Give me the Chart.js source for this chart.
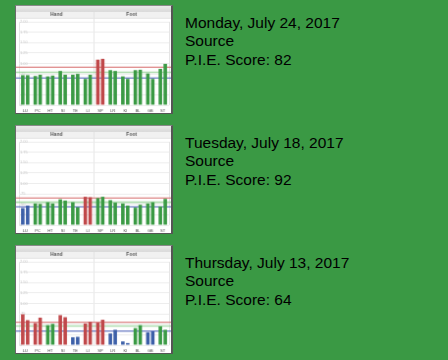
<!DOCTYPE html>
<html>
<head>
<meta charset="utf-8">
<script src="https://cdn.jsdelivr.net/npm/chart.js@4.4.0/dist/chart.umd.min.js"></script>
<style>
  html, body { margin:0; padding:0; }
  body { width:448px; height:360px; background:#3a9944; position:relative; overflow:hidden;
         font-family:'Liberation Sans', Arial, Helvetica, sans-serif; }
  canvas.thumb { position:absolute; left:15px; background:#fff;
         border-left:1px solid #6a6a6a; border-top:1px solid #8a8a8a;
         border-right:2px solid #555; border-bottom:1px solid #555; }
  .info { position:absolute; left:185px; font-size:15.5px; line-height:18.3px; color:#000; }
</style>
</head>
<body>
<canvas id="c1" class="thumb" width="158" height="109" style="top:5px"></canvas>
<canvas id="c2" class="thumb" width="158" height="109" style="top:125px"></canvas>
<canvas id="c3" class="thumb" width="158" height="109" style="top:245px"></canvas>
<div class="info" style="top:14px">Monday, July 24, 2017<br>Source<br>P.I.E. Score: 82</div>
<div class="info" style="top:134px">Tuesday, July 18, 2017<br>Source<br>P.I.E. Score: 92</div>
<div class="info" style="top:254px">Thursday, July 13, 2017<br>Source<br>P.I.E. Score: 64</div>
<script>
// ---- data ----
const categories = ["LU","PC","HT","SI","TE","LI","SP","LR","KI","BL","GB","ST"];
const groups = ["Hand","Foot"];
const yTickLabels = ["0",".25",".50",".75","1.00","1.25","1.50","1.75","2.00"];

// chart 1 — Monday, July 24, 2017
const left1   = [0.72,0.70,0.69,0.82,0.73,0.63,1.09,0.84,0.69,0.84,0.76,0.87];
const right1  = [0.72,0.73,0.71,0.73,0.75,0.73,1.11,0.82,0.63,0.85,0.63,0.99];
const status1 = ["n","n","n","n","n","n","h","n","n","n","n","n"];
const refs1   = [0.91, 0.79, 0.65]; // upper, mean, lower

// chart 2 — Tuesday, July 18, 2017
const left2   = [0.41,0.52,0.55,0.62,0.55,0.68,0.65,0.60,0.52,0.42,0.52,0.45];
const right2  = [0.47,0.51,0.52,0.59,0.43,0.67,0.68,0.54,0.47,0.49,0.55,0.63];
const status2 = ["l","n","n","n","n","h","n","n","n","n","n","n"];
const refs2   = [0.65, 0.55, 0.44];

// chart 3 — Thursday, July 13, 2017
const left3   = [0.74,0.53,0.48,0.72,0.19,0.52,0.54,0.28,0.09,0.41,0.31,0.45];
const right3  = [0.60,0.66,0.51,0.67,0.20,0.56,0.61,0.37,0.05,0.48,0.33,0.37];
const status3 = ["h","h","n","h","l","h","h","l","l","n","l","n"];
const refs3   = [0.55, 0.46, 0.34];

// ---- styles ----
const statusColors = { h:"#c0484a", n:"#3a9a44", l:"#3c5fa8" };
const refStyles = [
  { color:"rgba(214,110,110,0.85)", width:1.2 },
  { color:"rgba(150,210,150,0.8)",  width:1.6 },
  { color:"rgba(80,100,185,0.85)",  width:1.2 }
];
Chart.defaults.font.family = "'Liberation Sans', Arial, sans-serif";

const thumbPlugin = {
  id: "thumbDecor",
  beforeDraw(chart) {
    const ctx = chart.ctx, x2 = chart.scales.x2, w = chart.width;
    ctx.save();
    const g = ctx.createLinearGradient(0, 0, 0, x2.top);
    g.addColorStop(0, "#ececec"); g.addColorStop(1, "#d9d9d9");
    ctx.fillStyle = g; ctx.fillRect(0, 0, w, x2.top);
    ctx.fillStyle = "#f1f1f1"; ctx.fillRect(0, x2.top, w, 6);
    ctx.fillStyle = "#dcdcdc"; ctx.fillRect(0, x2.top + 6, w, 0.8);
    ctx.restore();
  },
  beforeDatasetsDraw(chart, args, opts) {
    const ctx = chart.ctx, y = chart.scales.y, x = chart.scales.x, x2 = chart.scales.x2, a = chart.chartArea;
    ctx.save();
    const mid = (x.getPixelForValue(5) + x.getPixelForValue(6)) / 2;
    ctx.strokeStyle = "#e2e2e2"; ctx.lineWidth = 1;
    ctx.beginPath(); ctx.moveTo(mid, x2.top); ctx.lineTo(mid, a.top); ctx.stroke();
    opts.refs.forEach((v, i) => {
      const py = y.getPixelForValue(v);
      ctx.strokeStyle = refStyles[i].color; ctx.lineWidth = refStyles[i].width;
      ctx.beginPath(); ctx.moveTo(0, py); ctx.lineTo(chart.width, py); ctx.stroke();
    });
    ctx.restore();
  }
};

function makeChart(id, left, right, status, refs) {
  const colors = status.map(s => statusColors[s]);
  const ds = data => ({
    data, backgroundColor: colors, borderWidth: 0,
    categoryPercentage: 0.78, barPercentage: 0.72,
    xAxisID: "x", yAxisID: "y"
  });
  new Chart(document.getElementById(id), {
    type: "bar",
    data: { labels: categories, datasets: [ds(left), ds(right)] },
    options: {
      responsive: false, animation: false, events: [],
      layout: { padding: { top: 6, left: 3, right: 2, bottom: 0 } },
      plugins: { legend: { display: false }, tooltip: { enabled: false }, thumbDecor: { refs } },
      scales: {
        x: {
          position: "bottom",
          grid: { display: false, drawTicks: false }, border: { display: false },
          ticks: { font: { size: 4 }, color: "#444", padding: 3, maxRotation: 0, autoSkip: false },
          afterFit: s => { s.height = 8; }
        },
        x2: {
          type: "category", labels: groups, position: "top", offset: true,
          grid: { offset: true, color: "#e4e4e4", drawTicks: false }, border: { display: false },
          ticks: { font: { size: 5, weight: "bold" }, color: "#555", padding: 4, maxRotation: 0 },
          afterFit: s => { s.height = 10; }
        },
        y: {
          min: 0, max: 2,
          ticks: { stepSize: 0.25, mirror: true, padding: 1, font: { size: 4 }, color: "#c8c8c8",
                   callback: (v, i) => yTickLabels[i] },
          grid: { color: "#ececec", drawTicks: false }, border: { display: false },
          afterFit: s => { s.width = 0; }
        }
      }
    },
    plugins: [thumbPlugin]
  });
}

makeChart("c1", left1, right1, status1, refs1);
makeChart("c2", left2, right2, status2, refs2);
makeChart("c3", left3, right3, status3, refs3);
</script>
</body>
</html>
